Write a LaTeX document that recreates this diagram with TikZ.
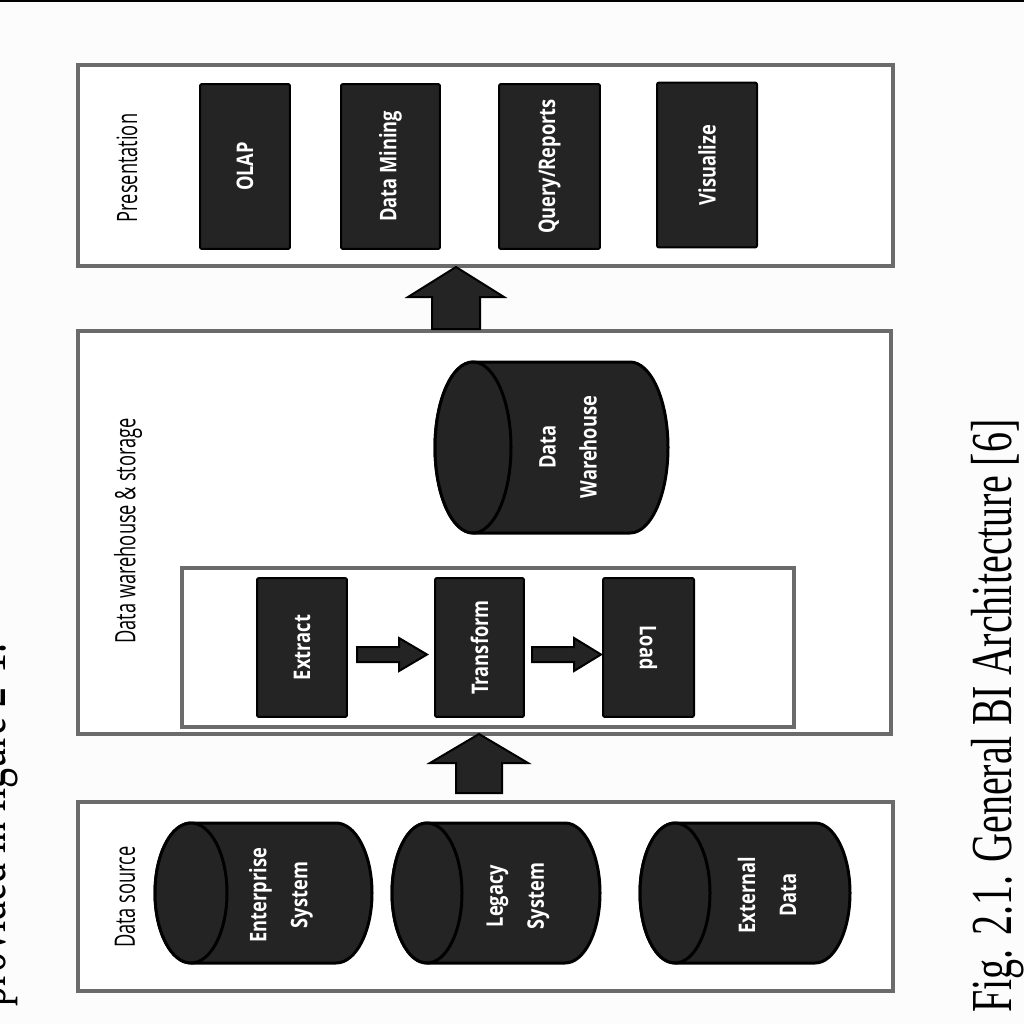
\documentclass[tikz,border=0pt]{standalone}
\usepackage{fontspec}
\setmainfont{Open Sans}
\newfontfamily\boxfont[FakeStretch=0.8]{Open Sans}
\newfontfamily\labfont[FakeStretch=0.65]{Open Sans}
\newfontfamily\capfont[FakeStretch=0.69]{Liberation Serif}
\definecolor{boxfill}{HTML}{242424}
\definecolor{framegray}{HTML}{6B6B6B}
\definecolor{bgc}{HTML}{FCFCFC}
\newcommand\drawcyl[5]{%
  \pgfmathsetmacro\cylA{#1+#5}%
  \pgfmathsetmacro\cylB{#2-#5}%
  \pgfmathsetmacro\cylry{(#4-#3)/2}%
  \pgfmathsetmacro\cylcy{(#3+#4)/2}%
  \draw[cyl] (\cylA,#3) -- (\cylB,#3) arc[start angle=-90,end angle=90,x radius=#5,y radius=\cylry] -- (\cylA,#4) arc[start angle=90,end angle=270,x radius=#5,y radius=\cylry] -- cycle;
  \draw[cyl] (\cylA,\cylcy) ellipse[x radius=#5, y radius=\cylry];
}
\begin{document}
\begin{tikzpicture}[x=0.02cm,y=-0.02cm,
  frame/.style={draw=framegray, fill=white, line width=0.07cm, inner sep=0},
  blk/.style={draw=black, fill=boxfill, line width=0.04cm, rounded corners=0.04cm, text=white, inner sep=0,
    font=\boxfont\bfseries\fontsize{13}{15}\selectfont},
  cyl/.style={draw=black, fill=boxfill, line width=0.06cm},
  cyltext/.style={text=white, align=center, rotate=90, inner sep=0,
    font=\boxfont\bfseries\fontsize{13}{23.3}\selectfont},
  blockarrow/.style={draw=black, fill=boxfill, line width=0.04cm, line join=miter},
  framelabel/.style={rotate=90, inner sep=0, font=\labfont\fontsize{16}{19}\selectfont},
  captext/.style={rotate=90, anchor=base, inner sep=0, font=\capfont\fontsize{33}{36}\selectfont}
]
\useasboundingbox (0,0) rectangle (1024,1024);
\clip (0,0) rectangle (1024,1024);
\fill[bgc] (0,0) rectangle (1024,1024);
\fill[black] (0,0) rectangle (1024,2.5);

% frames
\node[frame, minimum width=16.3cm, minimum height=4.02cm] (pres) at (485.5,165.5) {};
\node[frame, minimum width=16.26cm, minimum height=8.06cm] (dw) at (484.5,532.5) {};
\node[frame, minimum width=12.24cm, minimum height=3.18cm] (etl) at (488,647.5) {};
\node[frame, minimum width=16.3cm, minimum height=3.78cm] (src) at (485.5,896.5) {};

% frame labels
\node[framelabel] (plab) at (127,168) {Presentation};
\node[framelabel] (dwlab) at (128,531) {Data warehouse \& storage};
\node[framelabel] (slab) at (125,897) {Data source};

% presentation boxes
\node[blk, rotate=90, minimum width=3.3cm, minimum height=1.8cm] (olap) at (245,166.5) {OLAP};
\node[blk, rotate=90, minimum width=3.3cm, minimum height=1.98cm] (dm) at (390.5,166.5) {Data Mining};
\node[blk, rotate=90, minimum width=3.3cm, minimum height=2.02cm] (qr) at (549.5,166.5) {Query/Reports};
\node[blk, rotate=90, minimum width=3.3cm, minimum height=2.0cm] (vis) at (707,165) {Visualize};

% ETL boxes
\node[blk, rotate=90, minimum width=2.78cm, minimum height=1.8cm] (ext) at (302,647.5) {Extract};
\node[blk, rotate=90, minimum width=2.78cm, minimum height=1.78cm] (tr) at (479.5,647.5) {Transform};
\node[blk, rotate=-90, minimum width=2.78cm, minimum height=1.82cm] (load) at (648.5,647.5) {Load};

% ETL arrows
\draw[blockarrow] (357,647) -- (399,647) -- (399,638) -- (427,654.5) -- (399,671) -- (399,662) -- (357,662) -- cycle;
\draw[blockarrow] (532,647) -- (574,647) -- (574,638) -- (601,654.5) -- (574,671) -- (574,662) -- (532,662) -- cycle;

% big up arrows
\draw[blockarrow] (432,329) -- (432,297) -- (408,297) -- (456,267) -- (504,297) -- (480,297) -- (480,329) -- cycle;
\draw[blockarrow] (456,793) -- (456,763) -- (430,763) -- (479,734) -- (528,763) -- (502,763) -- (502,793) -- cycle;

% cylinders
\drawcyl{435}{668}{362}{533}{38}
\drawcyl{155}{372}{823}{963}{36}
\drawcyl{392}{600}{823}{963}{35}
\drawcyl{640}{850}{823}{963}{35}
\node[cyltext] (dwt) at (568,447) {Data\\Warehouse};
\node[cyltext] (ent) at (281,895) {Enterprise\\System};
\node[cyltext] (leg) at (518,896) {Legacy\\System};
\node[cyltext] (exd) at (767,895) {External\\Data};

% captions
\node[captext] (cap) at (1011,716) {Fig. 2.1. General BI Architecture [6]};
\node[captext] (prev) at (6,825) {provided in figure 2-1.};
\end{tikzpicture}
\end{document}
